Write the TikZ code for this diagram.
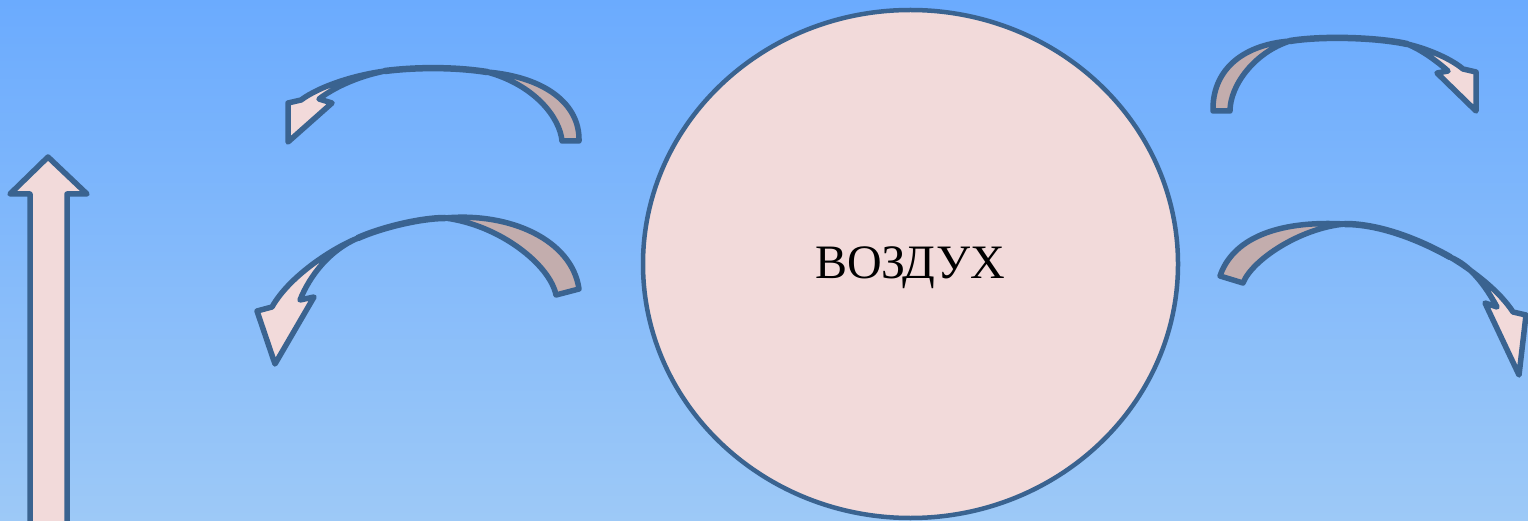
\documentclass[tikz,border=0pt]{standalone}
\usepackage{fontspec}
\setmainfont{Liberation Serif}
\usetikzlibrary{shapes.geometric}
\definecolor{bgtop}{HTML}{6BABFE}
\definecolor{bgmid}{HTML}{7CBAFE}
\definecolor{bgbot}{HTML}{9DC9F7}
\definecolor{edge}{HTML}{3A6390}
\definecolor{face}{HTML}{F2DADA}
\definecolor{under}{HTML}{C3ADAD}
\tikzset{
  outline/.style={draw=edge, line width=5.5pt, line join=round, line cap=round},
  darkside/.style={outline, fill=under},
  lightside/.style={outline, fill=face},
  midline/.style={draw=edge, line width=6.5pt, line cap=round},
  bubble/.style={ellipse, draw=edge, line width=4.5pt, fill=face, minimum width=535pt, minimum height=508pt, inner sep=0pt},
  caption/.style={font=\fontsize{48}{52}\selectfont, text=black, anchor=base, inner sep=0pt}
}
\begin{document}
\begin{tikzpicture}[x=1pt, y=-1pt]
\useasboundingbox (0,0) rectangle (1528,521);
\clip (0,0) rectangle (1528,521);
\shade[top color=bgtop, middle color=bgmid, bottom color=bgbot] (0,0) rectangle (1528,521);

% vertical arrow
\draw[lightside] (30,540) -- (30,194) -- (10,194) -- (48,157) -- (87,194) -- (67,194) -- (67,540);

% central ellipse
\node[bubble] (air) at (910.5,264) {};
\node[caption] (airtext) at (910,279) {ВОЗДУХ};

% arrow 1 (top left)
\draw[darkside] (487,72) .. controls (545,77) and (580,104) .. (579,141) -- (562,141) .. controls (560,118) and (535,85) .. (487,72) -- cycle;
\draw[midline] (487,72) .. controls (455,67) and (417,67) .. (385,71);
\draw[lightside] (385,71) .. controls (355,75) and (320,86) .. (301,100) -- (288,103) -- (288,142) -- (332,103) -- (319,99) .. controls (332,89) and (355,77) .. (385,71) -- cycle;

% arrow 2 (middle left)
\draw[darkside] (445,218) .. controls (510,212) and (572,240) .. (579,289) -- (556,295) .. controls (550,265) and (500,225) .. (445,218) -- cycle;
\draw[midline] (445,218) .. controls (420,218) and (380,228) .. (358,238);
\draw[lightside] (358,238) .. controls (335,247) and (290,275) .. (272,307) -- (257,311) -- (275,364) -- (314,297) -- (300,300) .. controls (310,275) and (330,250) .. (358,238) -- cycle;

% arrow 3 (top right)
\draw[darkside] (1290,41) .. controls (1240,45) and (1212,72) .. (1213,111) -- (1230,111) .. controls (1230,85) and (1255,52) .. (1290,41) -- cycle;
\draw[midline] (1290,41) .. controls (1320,36) and (1375,37) .. (1407,44);
\draw[lightside] (1407,44) .. controls (1425,48) and (1450,58) .. (1463,69) -- (1476,72) -- (1476,111) -- (1437,73) -- (1448,71) .. controls (1438,62) and (1422,50) .. (1407,44) -- cycle;

% arrow 4 (middle right)
\draw[darkside] (1345,224) .. controls (1275,220) and (1232,240) .. (1220,276) -- (1243,283) .. controls (1252,260) and (1300,228) .. (1345,224) -- cycle;
\draw[midline] (1345,224) .. controls (1380,224) and (1420,240) .. (1450,257);
\draw[lightside] (1450,257) .. controls (1475,272) and (1500,292) .. (1513,312) -- (1526,315) -- (1519,375) -- (1485,303) -- (1497,307) .. controls (1485,285) and (1470,265) .. (1450,257) -- cycle;
\end{tikzpicture}
\end{document}
